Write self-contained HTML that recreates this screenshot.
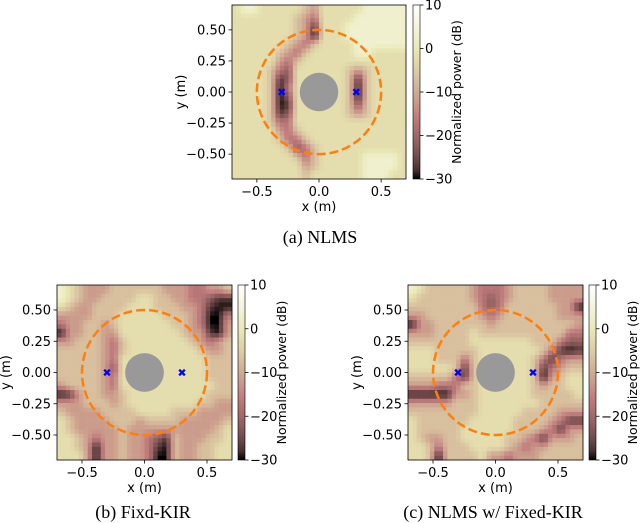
<!DOCTYPE html>
<html><head><meta charset="utf-8"><style>
html,body{margin:0;padding:0;background:#fff;}
svg{display:block;font-family:"DejaVu Sans","Liberation Sans",sans-serif;}
.cap{font-family:"Liberation Serif",serif;font-size:18px;}
</style></head><body>
<svg id="fig" width="640" height="523" viewBox="0 0 640 523" xmlns="http://www.w3.org/2000/svg"></svg>
<script>
// Heatmap data: 20x20 grid, rows top(y=0.7) to bottom(y=-0.7); digit d -> dB = 8 - 5*d (clipped at -30)
const gridNLMS = [
"21122222342222211111","22222223452222111111","22222223472221111111","22222223482221111111",
"22222234532222111111","22222345322222112222","22222453222222222222","22223562222223432222",
"22223762222223732222","22223852222223832222","22223862222223832222","22223972222223632222",
"22223762222223432222","22223552222222222222","22222453222222222222","22222355322222222222",
"22222236532222222222","22222223532222211112","22222222432222211112","22222222322222211122"];
const gridFixed = [
"12344433333344455443","12344333322334455677","23443333222333445789","44443332222233345895",
"54433432222223345894","84433442222222344784","44333453222222234543","33333453222222223443",
"33333452222222222333","33333462222222222333","33333452222222222333","43333452222222222233",
"87433443222222222333","44433343222222223344","34444333322223334444","23444433343333444443",
"23444443444444444432","22345443445673444332","22348443445783443322","22249443445893443322"];
const gridCombined = [
"12333334555433334444","23333334565433334444","33333333565333333448","44333333454333333444",
"84433333343333333334","44433332333333333355","33333332222222333566","22233333222222235787",
"22233353222222357544","22222373222222375433","33333573222222384322","44455533222222343322",
"88888443222222333332","44444333222222233333","33333333222223333444","23333332222233334577",
"23333322222233345744","23443322222334574443","22353332222345443333","22393333244544433333"];
const xTicks = [-0.5, 0.0, 0.5];
const yTicks = [0.5, 0.25, 0.0, -0.25, -0.5];
const cbTicks = [10, 0, -10, -20, -30];
const micX = [-0.3, 0.3];
const micY = [0, 0];
const circleR = [0.5];
const diskR = [0.155];

const NS = "http://www.w3.org/2000/svg";
const fig = document.getElementById("fig");
function mk(tag, attrs, parent){const e=document.createElementNS(NS,tag);for(const k in attrs)e.setAttribute(k,attrs[k]);(parent||fig).appendChild(e);return e;}
function pink(t){
  t=Math.max(0,Math.min(1,t));
  const hr=Math.min(1,t/0.365), hg=Math.max(0,Math.min(1,(t-0.365)/0.381)), hb=Math.max(0,Math.min(1,(t-0.746)/0.254));
  const f=h=>Math.round(255*Math.sqrt((2*t+h)/3));
  return `rgb(${f(hr)},${f(hg)},${f(hb)})`;
}
const defs = mk("defs",{});
const grad = mk("linearGradient",{id:"cbg",x1:"0",y1:"1",x2:"0",y2:"0"},defs);
for(let i=0;i<=20;i++){mk("stop",{offset:(i/20),"stop-color":pink(i/20)},grad);}

function toDb(ch){return Math.max(-30, 8 - 5*parseInt(ch));}
function panel(name, grid, L, T, S, cbx, caption, capX, capY){
  const g = mk("g",{});
  
  
  const sx = v => L + (v+0.7)/1.4*S;
  const sy = v => T + (0.7-v)/1.4*S;
  const n = grid.length;
  const val = (r,c)=>toDb(grid[Math.max(0,Math.min(n-1,r))][Math.max(0,Math.min(n-1,c))]);
  const sub = 2, m = n*sub, cw = S/m;
  for(let r=0;r<m;r++){
    for(let c=0;c<m;c++){
      const gy=(r+0.5)/sub-0.5, gx=(c+0.5)/sub-0.5;
      const r0=Math.floor(gy), c0=Math.floor(gx), fy=gy-r0, fx=gx-c0;
      const dB = val(r0,c0)*(1-fx)*(1-fy)+val(r0,c0+1)*fx*(1-fy)+val(r0+1,c0)*(1-fx)*fy+val(r0+1,c0+1)*fx*fy;
      const rc = mk("rect",{x:(L+c*cw).toFixed(2),y:(T+r*cw).toFixed(2),width:(cw+0.3).toFixed(2),height:(cw+0.3).toFixed(2),fill:pink((dB+30)/40)},g);
      
      
    }
  }
  const disk = mk("circle",{cx:sx(0),cy:sy(0),r:diskR[0]*S/1.4,fill:"#999999"},g);
  
  
  const ring = mk("circle",{cx:sx(0),cy:sy(0),r:circleR[0]*S/1.4,fill:"none",stroke:"#ff7f0e","stroke-width":2.5,"stroke-dasharray":"9,4"},g);
  
  
  for(let i=0;i<micX.length;i++){
    const mm = mk("text",{x:sx(micX[i]),y:sy(micY[i])+4,"text-anchor":"middle","font-size":"11","font-weight":"bold",fill:"#0000ff"},g);
    mm.textContent="✖";
    
    
  }
  const frame = mk("rect",{x:L,y:T,width:S,height:S,fill:"none",stroke:"#000","stroke-width":0.8},g);
  
  
  xTicks.forEach(v=>{
    mk("line",{x1:sx(v),x2:sx(v),y1:T+S,y2:T+S+3.5,stroke:"#000","stroke-width":0.8},g);
    const t = mk("text",{x:sx(v),y:T+S+17,"text-anchor":"middle","font-size":"13"},g);
    t.textContent = v.toFixed(1).replace("-","−");
    
    
  });
  yTicks.forEach(v=>{
    mk("line",{x1:L-3.5,x2:L,y1:sy(v),y2:sy(v),stroke:"#000","stroke-width":0.8},g);
    const t = mk("text",{x:L-6,y:sy(v)+4.5,"text-anchor":"end","font-size":"13"},g);
    t.textContent = v.toFixed(2).replace("-","−");
    
    
  });
  const xl = mk("text",{x:sx(0),y:T+S+32,"text-anchor":"middle","font-size":"13"},g);
  xl.textContent="x (m)";
  
  
  const yx = L-47, yy = sy(0);
  const yl = mk("text",{x:yx,y:yy,"text-anchor":"middle","font-size":"13",transform:`rotate(-90 ${yx} ${yy})`},g);
  yl.textContent="y (m)";
  
  
  const cb = mk("rect",{x:cbx,y:T,width:7,height:S,fill:"url(#cbg)",stroke:"#000","stroke-width":0.6},g);
  
  
  cbTicks.forEach(v=>{
    const y = T + (10-v)/40*S;
    mk("line",{x1:cbx+7,x2:cbx+10.5,y1:y,y2:y,stroke:"#000","stroke-width":0.8},g);
    const t = mk("text",{x:cbx+12,y:y+4.5,"font-size":"13"},g);
    t.textContent = String(v).replace("-","−");
    
    
  });
  const cx = cbx+48, cy = T+S/2;
  const cl = mk("text",{x:cx,y:cy,"text-anchor":"middle","font-size":"12.5",transform:`rotate(-90 ${cx} ${cy})`},g);
  cl.textContent="Normalized power (dB)";
  
  
  const cp = mk("text",{x:capX,y:capY,"text-anchor":"middle",class:"cap"},g);
  cp.textContent=caption;
  
  
}
panel("panel-nlms", gridNLMS, 232, 5, 174, 413, "(a) NLMS", 320, 243);
panel("panel-fixed-kir", gridFixed, 57, 285, 175, 238, "(b) Fixd-KIR", 143, 518);
panel("panel-nlms-fixed-kir", gridCombined, 408, 285, 175, 589, "(c) NLMS w/ Fixed-KIR", 493, 518);
</script>
</body></html>
